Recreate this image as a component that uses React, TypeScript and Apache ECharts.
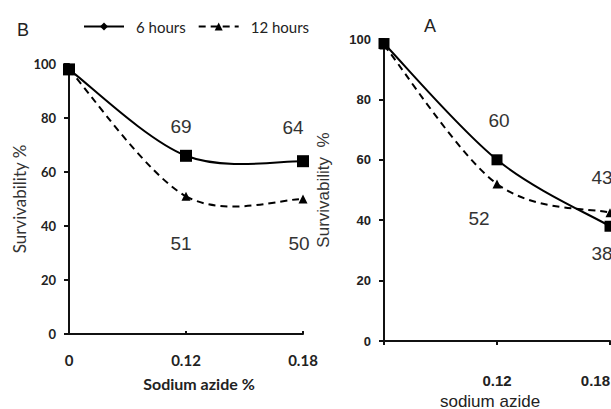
import React, { useEffect, useRef } from "react";
import * as echarts from "echarts";

// Panel B (left)
const categoriesB = ["0", "0.12", "0.18"];
const sixHoursB = [98, 66, 64];
const twelveHoursB = [98, 51, 50];
const sixLabelsB = ["", "69", "64"];
const twelveLabelsB = ["", "51", "50"];

// Panel A (right)
const categoriesA = ["", "0.12", "0.18"];
const sixHoursA = [98.5, 60, 38];
const twelveHoursA = [98, 52, 42.5];
const sixLabelsA = ["", "60", "38"];
const twelveLabelsA = ["", "52", "43"];

const yTicks = { min: 0, max: 100, interval: 20 };

// label offsets (styling)
const offSixB = [[0, 0], [-5, -29], [-10, -34]];
const offTwelveB = [[0, 0], [-5, 47], [-4, 44]];
const offSixA = [[0, 0], [2, -39], [-8, 27]];
const offTwelveA = [[0, 0], [-18, 35], [-8, -35]];

const labelFont = { fontFamily: "Liberation Sans, Arial", fontSize: 19, color: "#333" };

function mkData(vals: number[], labels: string[], offs: number[][], firstSymbol?: string) {
  return vals.map((v, i) => {
    const item: any = { value: v };
    if (firstSymbol) item.symbol = firstSymbol;
    if (labels[i]) {
      item.label = {
        show: true,
        position: "inside",
        formatter: labels[i],
        offset: offs[i],
        ...labelFont,
      };
    }
    return item;
  });
}

function curveSeries(vals: number[], axis: number, dashed: boolean) {
  return {
    type: "custom",
    xAxisIndex: axis,
    yAxisIndex: axis,
    silent: true,
    z: 1,
    data: vals.map((v, k) => [k, v]),
    renderItem: (params: any, api: any) => {
      const i = params.dataIndex;
      const n = vals.length;
      if (i >= n - 1) return { type: "group", children: [] };
      const pts = vals.map((v, k) => api.coord([k, v]));
      const P0 = pts[i - 1] || pts[i];
      const P1 = pts[i];
      const P2 = pts[i + 1];
      const P3 = pts[i + 2] || pts[i + 1];
      const c1 = [P1[0] + (P2[0] - P0[0]) / 6, P1[1] + (P2[1] - P0[1]) / 6];
      const c2 = [P2[0] - (P3[0] - P1[0]) / 6, P2[1] - (P3[1] - P1[1]) / 6];
      const d = `M${P1[0]},${P1[1]} C${c1[0]},${c1[1]} ${c2[0]},${c2[1]} ${P2[0]},${P2[1]}`;
      return {
        type: "path",
        shape: { pathData: d },
        style: { fill: "none", stroke: "#000", lineWidth: 2, lineDash: dashed ? [7, 5] : null },
      };
    },
  };
}

export default function App() {
  const ref = useRef<HTMLDivElement>(null);
  useEffect(() => {
    if (!ref.current) return;
    const chart = echarts.init(ref.current, undefined, { renderer: "svg" });
    const axisLine = { show: true, lineStyle: { color: "#111", width: 2 } };
    const markerSeries = (name: string, axis: number, vals: number[], labels: string[], offs: number[][], isSix: boolean) => ({
      name,
      type: "line",
      xAxisIndex: axis,
      yAxisIndex: axis,
      symbol: isSix ? "diamond" : "triangle",
      symbolSize: isSix ? (axis === 0 ? 12 : 11) : 9,
      z: isSix ? 4 : 3,
      lineStyle: { color: "#000", width: 2, opacity: 0, type: isSix ? "solid" : [7, 5] },
      itemStyle: { color: "#000" },
      data: mkData(vals, labels, offs, isSix ? "rect" : undefined),
    });
    const option: any = {
      animation: false,
      backgroundColor: "#fff",
      legend: {
        left: 78,
        top: 14,
        itemWidth: 40,
        itemHeight: 10,
        itemGap: 12,
        data: [
          { name: "6 hours", lineStyle: { opacity: 1 } },
          { name: "12 hours", lineStyle: { opacity: 1 } },
        ],
        textStyle: { fontFamily: "Lato", fontSize: 15, color: "#222", padding: [0, 0, 0, 7] },
      },
      graphic: [
        { type: "text", left: 17, top: 21, style: { text: "B", fontFamily: "Liberation Sans, Arial", fontSize: 18, fill: "#222" } },
        { type: "text", left: 424, top: 17, style: { text: "A", fontFamily: "Liberation Sans, Arial", fontSize: 18, fill: "#222" } },
      ],
      grid: [
        { left: 69, top: 64, width: 234, height: 270, outerBoundsMode: "none" },
        { left: 384, top: 39, width: 226, height: 302, outerBoundsMode: "none" },
      ],
      xAxis: [
        {
          type: "category",
          gridIndex: 0,
          data: categoriesB,
          boundaryGap: false,
          axisLine,
          axisTick: { show: true, inside: true, length: 3, lineStyle: { color: "#111", width: 2 } },
          axisLabel: { margin: 18, fontFamily: "Lato", fontWeight: "bold", fontSize: 15, color: "#222" },
          name: "Sodium azide %",
          nameLocation: "middle",
          nameGap: 41,
          nameTextStyle: { fontFamily: "Lato", fontWeight: "bold", fontSize: 16, color: "#222", padding: [0, 0, 0, 26] },
          splitLine: { show: false },
        },
        {
          type: "category",
          gridIndex: 1,
          data: categoriesA,
          boundaryGap: false,
          axisLine,
          axisTick: { show: true, length: 4, lineStyle: { color: "#111", width: 2 } },
          axisLabel: { margin: 32, fontFamily: "Liberation Sans, Arial", fontWeight: "bold", fontSize: 15, color: "#222", alignMaxLabel: "right" },
          name: "sodium azide",
          nameLocation: "middle",
          nameGap: 51,
          nameTextStyle: { fontFamily: "Liberation Sans, Arial", fontSize: 17, color: "#222", padding: [0, 14, 0, 0] },
          splitLine: { show: false },
        },
      ],
      yAxis: [
        {
          type: "value",
          gridIndex: 0,
          ...yTicks,
          axisLine,
          axisTick: { show: true, length: 5, lineStyle: { color: "#111", width: 2 } },
          axisLabel: { margin: 13, fontFamily: "Lato", fontWeight: "bold", fontSize: 13, color: "#222" },
          splitLine: { show: false },
          name: "Survivability %",
          nameLocation: "middle",
          nameGap: 41,
          nameTextStyle: { fontFamily: "Lato", fontSize: 17, color: "#333" },
        },
        {
          type: "value",
          gridIndex: 1,
          ...yTicks,
          axisLine,
          axisTick: { show: true, length: 5, lineStyle: { color: "#111", width: 2 } },
          axisLabel: { margin: 13, fontFamily: "Liberation Sans, Arial", fontWeight: "bold", fontSize: 13, color: "#222" },
          splitLine: { show: false },
          name: "Survivability  %",
          nameLocation: "middle",
          nameGap: 52,
          nameTextStyle: { fontFamily: "Liberation Sans, Arial", fontSize: 17, color: "#333" },
        },
      ],
      series: [
        curveSeries(sixHoursB, 0, false),
        curveSeries(twelveHoursB, 0, true),
        curveSeries(sixHoursA, 1, false),
        curveSeries(twelveHoursA, 1, true),
        markerSeries("6 hours", 0, sixHoursB, sixLabelsB, offSixB, true),
        markerSeries("12 hours", 0, twelveHoursB, twelveLabelsB, offTwelveB, false),
        markerSeries("6 hours", 1, sixHoursA, sixLabelsA, offSixA, true),
        markerSeries("12 hours", 1, twelveHoursA, twelveLabelsA, offTwelveA, false),
      ],
    };
    chart.setOption(option);
    return () => chart.dispose();
  }, []);
  return (
    <div
      ref={ref}
      style={{ position: "fixed", left: 0, top: 0, width: 611, height: 409, background: "#fff" }}
    />
  );
}
